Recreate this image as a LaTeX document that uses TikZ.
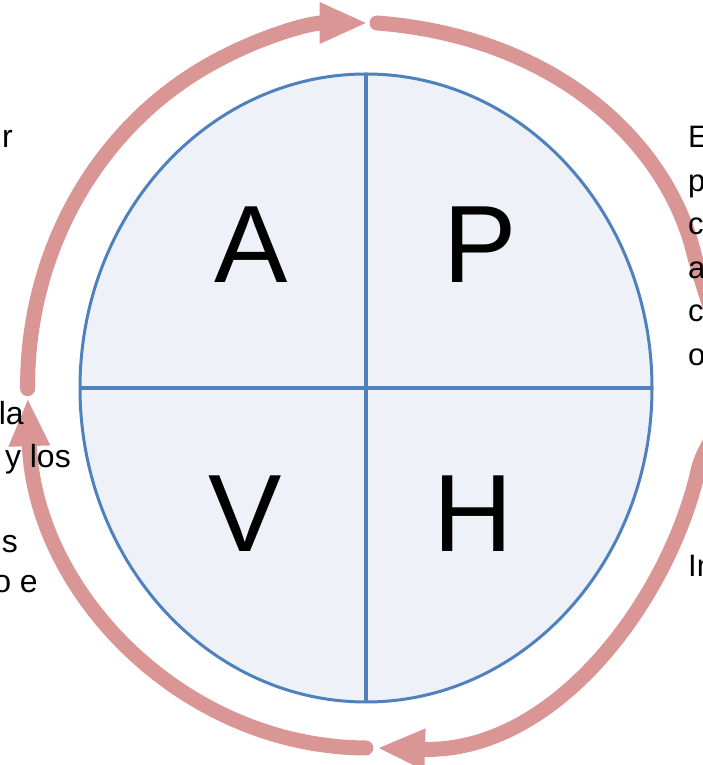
\documentclass[tikz,border=0pt]{standalone}
\usepackage{fontspec}
\setmainfont{Liberation Sans}
\usetikzlibrary{arrows.meta,shapes.geometric}
\definecolor{ringred}{HTML}{D99694}
\definecolor{quadblue}{HTML}{4F81BD}
\definecolor{quadfill}{HTML}{EEF1F8}
\begin{document}
\begin{tikzpicture}[x=1pt,y=1pt,
  ringarc/.style={draw=ringred, line width=15pt, line cap=round,
    -{Triangle[length=48pt,width=38pt]}},
  divider/.style={draw=quadblue, line width=4pt},
  bigletter/.style={font=\fontsize{110}{110}\selectfont, inner sep=0pt, anchor=base},
  lefttext/.style={font=\fontsize{32}{40}\selectfont, inner sep=0pt, anchor=base east},
  righttext/.style={font=\fontsize{31}{40}\selectfont, inner sep=0pt, anchor=base west}]
\useasboundingbox (0,0) rectangle (703,765);
\clip (0,0) rectangle (703,765);
% disc with four quadrants
\node[ellipse, draw=quadblue, line width=3pt, fill=quadfill, outer sep=0pt,
  minimum width=572pt, minimum height=628pt, inner sep=0pt] (disc) at (366,377) {};
\draw[divider] (disc.north) -- (disc.south);
\draw[divider] (disc.west) -- (disc.east);
\node[bigletter] (qa) at (251,482) {A};
\node[bigletter] (qp) at (480,482) {P};
\node[bigletter] (qv) at (245,213) {V};
\node[bigletter] (qh) at (473,213) {H};
% outer cycle of arrows
\coordinate (ringc) at (367.6,379.5);
\coordinate (topstart) at (377,742);
\coordinate (rightmid) at (693,515);
\coordinate (righttip) at (725,370);
\coordinate (rightstart) at (725,362);
\coordinate (lowright) at (698.2,295);
\coordinate (bottomtip) at (377,17);
% left to top
\draw[ringarc] ([shift={(180.5:340 and 362.5)}]ringc)
  arc[start angle=180.5, end angle=90, x radius=340, y radius=362.5];
% top to right
\draw[ringarc] (topstart) .. controls (557,728) and (665.5,622) .. (rightmid)
  .. controls (703,476.2) and (725,415) .. (righttip);
% right to bottom
\draw[ringarc] (rightstart) .. controls (725,340) and (703.7,319.4) .. (lowright)
  .. controls (669.7,168.1) and (557,11.6) .. (bottomtip);
% bottom to left
\draw[ringarc] ([shift={(-90.3:340 and 362.5)}]ringc)
  arc[start angle=-90.3, end angle=-178, x radius=340, y radius=362.5];
% cropped side texts, left
\node[lefttext] (l1) at (13,617) {r};
\node[lefttext] (l2) at (24,340) {la};
\node[lefttext] (l3) at (71,297) {y los};
\node[lefttext] (l4) at (18,212) {s};
\node[lefttext] (l5) at (38,172) {o e};
% cropped side texts, right
\node[righttext] (r1) at (688,617) {E};
\node[righttext] (r2) at (688,573.5) {p};
\node[righttext] (r3) at (688,530) {c};
\node[righttext] (r4) at (688,486.5) {a};
\node[righttext] (r5) at (688,443) {c};
\node[righttext] (r6) at (688,399.5) {o};
\node[righttext] (r7) at (688,188) {In};
\end{tikzpicture}
\end{document}
